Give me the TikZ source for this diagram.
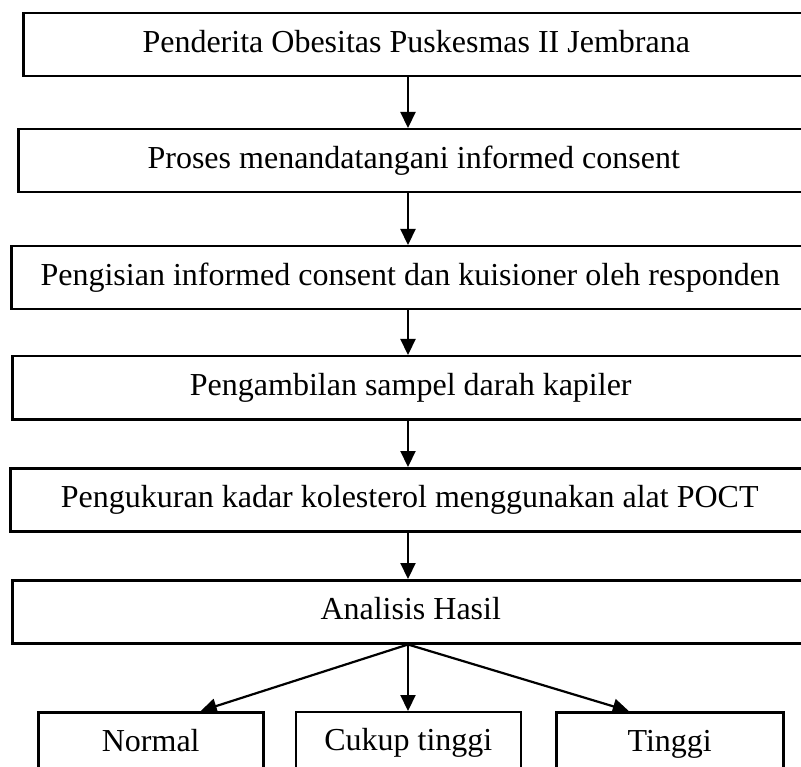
\documentclass[tikz,border=0pt]{standalone}
\usepackage{fontspec}
\setmainfont{Liberation Serif}
\usetikzlibrary{arrows.meta}

\begin{document}
\begin{tikzpicture}[x=1pt,y=-1pt,
  box/.style={draw,line width=2.5pt,anchor=north west,minimum height=63pt,inner sep=0pt,
    text height=22pt,text depth=7pt,font=\fontsize{32}{38}\selectfont},
  arr/.style={-{Triangle[length=16pt,width=15pt]},line width=2.2pt}]
\useasboundingbox (0,0) rectangle (801,767);
\clip (0,0) rectangle (801,767);

\node[box,minimum width=786pt] (b1) at (22,12) {Penderita Obesitas Puskesmas II Jembrana};
\node[box,minimum width=791pt] (b2) at (17,128) {Proses menandatangani informed consent};
\node[box,minimum width=798pt] (b3) at (10,245) {Pengisian informed consent dan kuisioner oleh responden};
\node[box,minimum width=797pt] (b4) at (11,355) {Pengambilan sampel darah kapiler};
\node[box,minimum width=799pt] (b5) at (9,467) {Pengukuran kadar kolesterol menggunakan alat POCT};
\node[box,minimum width=797pt] (b6) at (11,579) {Analisis Hasil};

\node[box,minimum width=225pt] (n1) at (37,711) {Normal};
\node[box,minimum width=225pt,line width=1.6pt] (n2) at (295,711) {Cukup tinggi};
\node[box,minimum width=227pt] (n3) at (555,711) {Tinggi};

\coordinate (mid) at (408,0);
\coordinate (tipA) at ([xshift=50pt]n1.north);
\coordinate (tipC) at ([xshift=-41pt]n3.north);

\draw[arr] (b1.south -| mid) -- (b2.north -| mid);
\draw[arr] (b2.south -| mid) -- (b3.north -| mid);
\draw[arr] (b3.south -| mid) -- (b4.north -| mid);
\draw[arr] (b4.south -| mid) -- (b5.north -| mid);
\draw[arr] (b5.south -| mid) -- (b6.north -| mid);

\draw[arr] (b6.south -| mid) -- (tipA);
\draw[arr] (b6.south -| mid) -- (n2.north -| mid);
\draw[arr] (b6.south -| mid) -- (tipC);
\end{tikzpicture}
\end{document}
